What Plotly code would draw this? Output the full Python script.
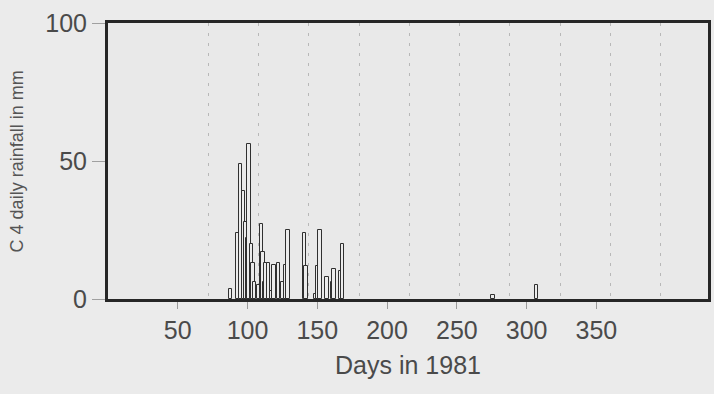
import plotly.graph_objects as go

# Daily rainfall at station C4, 1981 (mm)
days = [88, 93, 95, 97, 99, 100, 101, 103, 104, 105, 108, 110, 111, 112, 113,
        115, 117, 119, 122, 125, 127, 129, 141, 142, 149, 150, 152, 157, 161,
        162, 167, 168, 276, 307]
rain = [3.5, 24, 49, 39, 28, 22, 56, 20, 13, 6, 5, 27, 17, 6, 13,
        13, 3, 12.5, 13, 6, 12.5, 25, 24, 12, 1.8, 12, 25, 8, 6,
        11, 10, 20, 1.5, 5]

x_ticks = [50, 100, 150, 200, 250, 300, 350]
y_ticks = [0, 50, 100]
grid_days = [72, 108, 144, 180, 216, 252, 288, 324, 360, 396]

font_family = "Liberation Sans, Arial, sans-serif"
label_color = "#4a4a4a"

fig = go.Figure()
fig.add_trace(go.Bar(
    x=days, y=rain, width=2.4,
    marker=dict(color="#ececec", line=dict(color="#303030", width=1)),
    showlegend=False,
))

fig.update_layout(
    width=714, height=394,
    margin=dict(l=108, r=3, t=23, b=95),
    paper_bgcolor="#ebebeb",
    plot_bgcolor="#e9e9e9",
    barmode="overlay",
    bargap=0,
    font=dict(family=font_family, color=label_color),
    annotations=[dict(
        text="C 4 daily rainfall in mm", textangle=-90,
        xref="paper", yref="paper", x=-0.151, y=0.50,
        xanchor="center", yanchor="middle", showarrow=False,
        font=dict(size=18, color="#555555"),
    )],
)

fig.update_xaxes(
    range=[0, 430],
    tickvals=x_ticks,
    ticks="outside", ticklen=7, tickcolor="#9a9a9a", tickwidth=1,
    tickfont=dict(size=25, color=label_color),
    showgrid=False,
    zeroline=False,
    showline=True, linecolor="#262626", linewidth=3, mirror=True,
    minor=dict(tickvals=grid_days, showgrid=True, gridcolor="#b8b8b8",
               griddash="3px,7px", gridwidth=1, ticks=""),
    title=dict(text="Days in 1981", font=dict(size=25, color=label_color),
               standoff=14),
)

fig.update_yaxes(
    range=[0, 100],
    tickvals=y_ticks,
    ticks="outside", ticklen=13, tickcolor="#a0a0a0", tickwidth=1,
    tickfont=dict(size=25, color=label_color),
    showgrid=False,
    zeroline=False,
    showline=True, linecolor="#262626", linewidth=3, mirror=True,
)

fig.write_html("out.html")
